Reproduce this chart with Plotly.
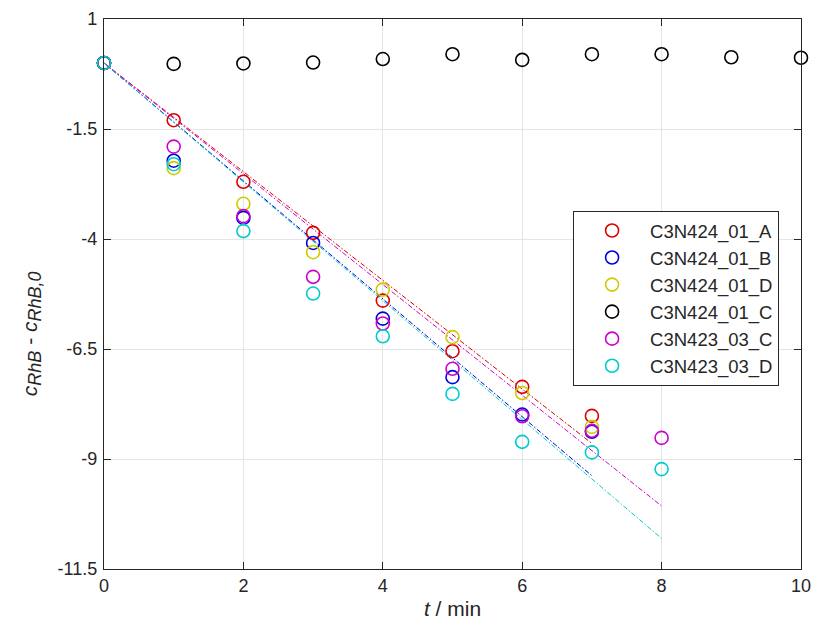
import plotly.graph_objects as go

names = ["C3N424_01_A", "C3N424_01_B", "C3N424_01_D", "C3N424_01_C", "C3N423_03_C", "C3N423_03_D"]
colors = ["#DD0000", "#0000DD", "#CCCC00", "#000000", "#CC00CC", "#00CCCC"]

t_A = [0, 1, 2, 3, 4, 5, 6, 7]
y_A = [0, -1.30, -2.70, -3.86, -5.40, -6.55, -7.36, -8.02]
t_B = [0, 1, 2, 3, 4, 5, 6, 7]
y_B = [0, -2.22, -3.52, -4.09, -5.81, -7.14, -7.99, -8.38]
t_D = [0, 1, 2, 3, 4, 5, 6, 7]
y_D = [0, -2.39, -3.20, -4.30, -5.15, -6.23, -7.50, -8.27]
t_C = [0, 1, 2, 3, 4, 5, 6, 7, 8, 9, 10]
y_C = [0, -0.02, -0.01, 0.01, 0.09, 0.20, 0.07, 0.20, 0.20, 0.13, 0.12]
t_3C = [0, 1, 2, 3, 4, 5, 6, 7, 8]
y_3C = [0, -1.90, -3.48, -4.86, -5.92, -6.95, -8.03, -8.36, -8.52]
t_3D = [0, 1, 2, 3, 4, 5, 6, 7, 8]
y_3D = [0, -2.30, -3.82, -5.24, -6.21, -7.52, -8.61, -8.85, -9.23]

# fitted lines (through origin), slopes
fit_slopes = [-1.235, -1.34, -1.2585, -1.3507]
fit_tmax = [7, 7, 8, 8]
fit_colors = ["#DD0000", "#0000DD", "#CC00CC", "#00CCCC"]

y_ticks = [1, -1.5, -4, -6.5, -9, -11.5]
x_ticks = [0, 2, 4, 6, 8, 10]

FONT = "Liberation Sans, Arial"
INK = "#262626"

fig = go.Figure()

for s, tm, c in zip(fit_slopes, fit_tmax, fit_colors):
    fig.add_trace(go.Scatter(
        x=[0, tm], y=[0, s * tm], mode="lines",
        line=dict(color=c, width=1, dash="5px,2px,1.5px,2px"),
        showlegend=False, hoverinfo="skip"))

series = [(t_A, y_A), (t_B, y_B), (t_D, y_D), (t_C, y_C), (t_3C, y_3C), (t_3D, y_3D)]
for (tx, ty), n, c in zip(series, names, colors):
    fig.add_trace(go.Scatter(
        x=tx, y=ty, mode="markers", name=n,
        marker=dict(symbol="circle-open", size=13, color=c, line=dict(width=1.6, color=c)),
        cliponaxis=False))

axis_common = dict(
    showline=True, linecolor=INK, linewidth=1.3, mirror="ticks",
    ticks="inside", ticklen=7, tickwidth=1.3, tickcolor=INK,
    showgrid=True, gridcolor="#E5E5E5", gridwidth=1, zeroline=False,
    tickfont=dict(family=FONT, size=18, color=INK), automargin=False,
)

sub = '<sub><span style="font-size:18px"><i>{}</i></span></sub>'
ytitle = "<i>c</i>" + sub.format("RhB") + " - <i>c</i>" + sub.format("RhB,0")

fig.update_layout(
    width=814, height=633,
    margin=dict(l=104, r=13, t=19, b=64),
    paper_bgcolor="white", plot_bgcolor="white",
    xaxis=dict(range=[0, 10], tickvals=x_ticks, ticktext=[str(v) for v in x_ticks],
               title=dict(text="<i>t</i> / min", standoff=6,
                          font=dict(family=FONT, size=21, color=INK)),
               **axis_common),
    yaxis=dict(range=[-11.5, 1], tickvals=y_ticks, ticktext=[str(v) for v in y_ticks],
               ticklabelstandoff=2, **axis_common),
    legend=dict(x=0.673, y=0.651, xanchor="left", yanchor="top",
                bgcolor="white", bordercolor=INK, borderwidth=1,
                font=dict(family=FONT, size=18.5, color=INK),
                itemwidth=66, tracegroupgap=0),
    showlegend=True,
    annotations=[dict(text=ytitle, textangle=-90, xref="paper", yref="paper",
                      x=0, y=0.427, xanchor="center", yanchor="middle",
                      xshift=-73, showarrow=False,
                      font=dict(family=FONT, size=21, color=INK))],
)

fig.write_html("out.html")
